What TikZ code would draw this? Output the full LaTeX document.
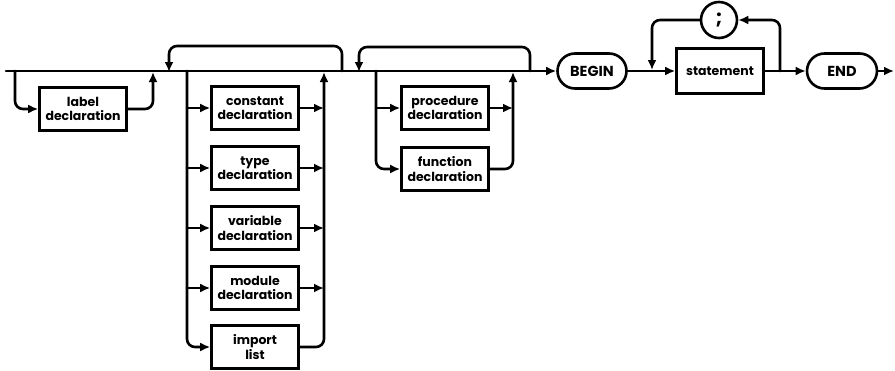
\documentclass[tikz,border=0pt]{standalone}
\usepackage{fontspec}
\setmainfont{Poppins}
\usetikzlibrary{arrows.meta,shapes.misc}
\begin{document}
\begin{tikzpicture}[x=1pt,y=-1pt,
  line width=2.6pt,
  >={Latex[length=10pt,width=9pt]},
  every path/.style={line cap=round},
  ntbox/.style={draw,rectangle,minimum width=87pt,minimum height=43pt,
    inner sep=0pt,align=center,font=\bfseries\fontsize{12.5}{14.5}\selectfont},
  kw/.style={draw,rounded rectangle,minimum width=69pt,minimum height=35pt,
    inner sep=0pt,font=\bfseries\fontsize{14.5}{16}\selectfont},
  term/.style={draw,circle,minimum size=36pt,inner sep=0pt,
    font=\bfseries\fontsize{20}{22}\selectfont},
  rc/.style={rounded corners=8pt}]
\useasboundingbox (0,0) rectangle (895,370);

% main line and entry
\coordinate (start) at (6,71);
\node[kw] (begin) at (592,71) {BEGIN};
\draw[->] (start) -- (begin.west);

% optional label declaration
\node[ntbox] (lab) at (83,109) {label\\declaration};
\coordinate (lsplit) at (15,71);
\coordinate (ljoin) at (153,72);
\draw[rc,->] (lsplit) |- (lab.west);
\draw[rc,->] (lab.east) -| (ljoin);

% declaration group: constants, types, variables, modules, imports
\node[ntbox] (cons) at (255,108) {constant\\declaration};
\node[ntbox] (type) at (255,168) {type\\declaration};
\node[ntbox] (var)  at (255,228) {variable\\declaration};
\node[ntbox] (mod)  at (255,288) {module\\declaration};
\node[ntbox] (imp)  at (255,347) {import\\list};
\coordinate (l2) at (187,71);
\coordinate (r2) at (324,72);
\coordinate (loopA) at (342,71);
\coordinate (loopB) at (169,72);
\draw[rc,->] (loopA) -- (loopA |- 0,46) -- (loopB |- 0,46) -- (loopB);
\draw[rc,->] (l2) |- (imp.west);
\foreach \b in {cons,type,var,mod} {
  \draw[->] (l2 |- \b.west) -- (\b.west);
  \draw[->] (\b.east) -- (\b.east -| r2);
}
\draw[rc,->] (imp.east) -| (r2);

% procedure / function group
\node[ntbox] (proc) at (445,108) {procedure\\declaration};
\node[ntbox] (func) at (445,169) {function\\declaration};
\coordinate (l3) at (376,71);
\coordinate (r3) at (513,72);
\coordinate (loopC) at (530,71);
\coordinate (loopD) at (359,72);
\draw[rc,->] (loopC) -- (loopC |- 0,47) -- (loopD |- 0,47) -- (loopD);
\draw[rc,->] (l3) |- (func.west);
\draw[->] (l3 |- proc.west) -- (proc.west);
\draw[->] (proc.east) -- (proc.east -| r3);
\draw[rc,->] (func.east) -| (r3);

% statement list
\node[ntbox,minimum height=45pt] (stmt) at (720,71) {statement};
\node[term] (semi) at (719,20) {;};
\node[kw,minimum width=70pt] (end) at (842,71) {END};
\coordinate (sA) at (780,71);
\coordinate (sB) at (652,70);
\coordinate (stop) at (894,71);
\draw[->] (begin.east) -- (stmt.west);
\draw[->] (stmt.east) -- (end.west);
\draw[rc,->] (sA) |- (semi.east);
\draw[rc,->] (semi.west) -| (sB);
\draw[->] (end.east) -- (stop);
\end{tikzpicture}
\end{document}
